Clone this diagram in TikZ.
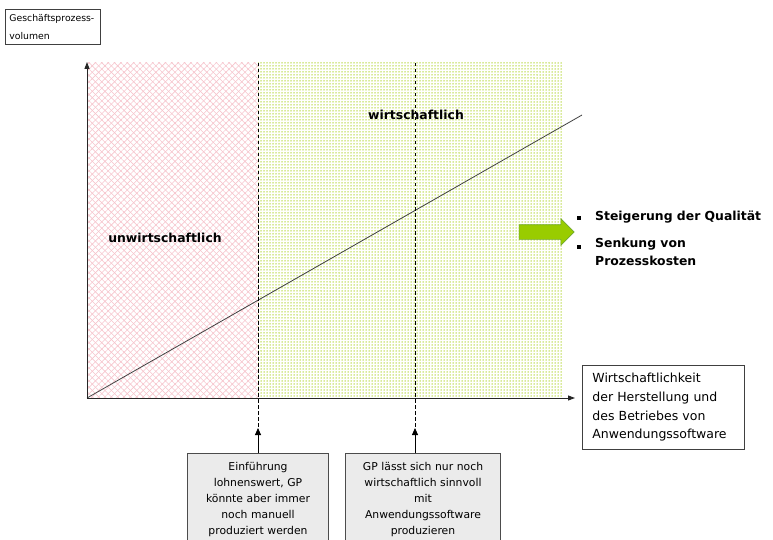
\documentclass[tikz,border=0pt]{standalone}
\usepackage{fontspec}
\setmainfont{DejaVu Sans}
\usepackage{xcolor}
\usetikzlibrary{arrows.meta, positioning, shapes.arrows, patterns.meta}

\definecolor{hatchpink}{RGB}{246,196,204}
\definecolor{dotgreen}{RGB}{176,212,48}
\definecolor{arrowgreen}{RGB}{153,204,0}
\definecolor{arrowedge}{RGB}{112,168,44}
\definecolor{notegray}{RGB}{235,235,235}

\begin{document}
\begin{tikzpicture}[x=1pt, y=-1pt,
    labelbox/.style={draw=black!75, line width=0.8pt, fill=white, align=left, inner xsep=7pt, anchor=north west},
    notebox/.style={draw=black!70, line width=0.8pt, fill=notegray, align=center, text width=135pt, inner ysep=9pt, anchor=north, font=\fontsize{10.8}{16}\selectfont},
    zone/.style={font=\fontsize{12.4}{15}\selectfont\bfseries, inner sep=0pt},
    point/.style={font=\fontsize{12.4}{18}\selectfont\bfseries, inner sep=0pt, align=left},
    bulletsq/.style={fill=black, minimum size=4pt, inner sep=0pt},
    axis/.style={line width=0.9pt, black!85, -{Triangle[length=7pt,width=5pt]}},
    limit/.style={line width=0.7pt, dashed, dash pattern=on 3.5pt off 2.5pt},
    pointer/.style={line width=0.8pt, -{Triangle[length=7pt,width=6pt]}}]

    \useasboundingbox (0,0) rectangle (773,540);
    \clip (0,0) rectangle (773,540);

    % Regions
    \fill[pattern={Lines[angle=45,distance=4.5pt,line width=0.6pt]}, pattern color=hatchpink] (87,63) rectangle (258,398);
    \fill[pattern={Lines[angle=-45,distance=4.5pt,line width=0.6pt]}, pattern color=hatchpink] (87,63) rectangle (258,398);
    \fill[pattern={Dots[distance=3pt,radius=0.75pt]}, pattern color=dotgreen] (258,63) rectangle (562,398);

    % Coordinates
    \coordinate (origin) at (87,398);
    \coordinate (ytop) at (87,62);
    \coordinate (xend) at (575,398);
    \coordinate (trend) at (582,115);
    \coordinate (lim1top) at (258,63);
    \coordinate (lim1bot) at (258,428);
    \coordinate (lim2top) at (415,63);
    \coordinate (lim2bot) at (415,428);

    % Trend line
    \draw[line width=0.8pt, black!75] (origin) -- (trend);

    % Limits
    \draw[limit] (lim1top) -- (lim1bot);
    \draw[limit] (lim2top) -- (lim2bot);

    % Axes
    \draw[axis] (origin) -- (ytop);
    \draw[axis] (origin) -- (xend);

    % Axis labels
    \node[labelbox, font=\fontsize{9.3}{18}\selectfont, text width=87pt, inner xsep=4pt, inner ysep=5pt] (ylabel) at (5,9) {Geschäftsprozess-\\volumen};
    \node[labelbox, font=\fontsize{12.5}{18.6}\selectfont, text width=142pt, inner xsep=10pt, inner ysep=8pt] (xlabel) at (582,365) {Wirtschaftlichkeit\\der Herstellung und\\des Betriebes von\\Anwendungssoftware};

    % Zones
    \node[zone] (loss) at (165,238) {unwirtschaftlich};
    \node[zone] (gain) at (416,115) {wirtschaftlich};

    % Notes
    \node[notebox] (note1) at (258,453) {Einführung\\lohnenswert, GP\\könnte aber immer\\noch manuell\\produziert werden};
    \node[notebox, text width=149pt] (note2) at (423,453) {GP lässt sich nur noch\\wirtschaftlich sinnvoll\\mit\\Anwendungssoftware\\produzieren};
    \draw[pointer] (note1.north) -- (lim1bot);
    \draw[pointer] (lim2bot |- note2.north) -- (lim2bot);

    % Benefit arrow and list
    \node[single arrow, draw=arrowedge, fill=arrowgreen, line width=0.6pt, minimum height=55pt, inner xsep=0pt, inner ysep=7pt, single arrow head extend=6pt] (benefit) at (543,232) {};
    \node[point, anchor=west] (quality) at (595,217) {Steigerung der Qualität};
    \node[point, anchor=north west] (costs) at (595,238) {Senkung von\\Prozesskosten};
    \node[bulletsq] (b1) at (579,218) {};
    \node[bulletsq] (b2) at (579,247) {};
\end{tikzpicture}
\end{document}
